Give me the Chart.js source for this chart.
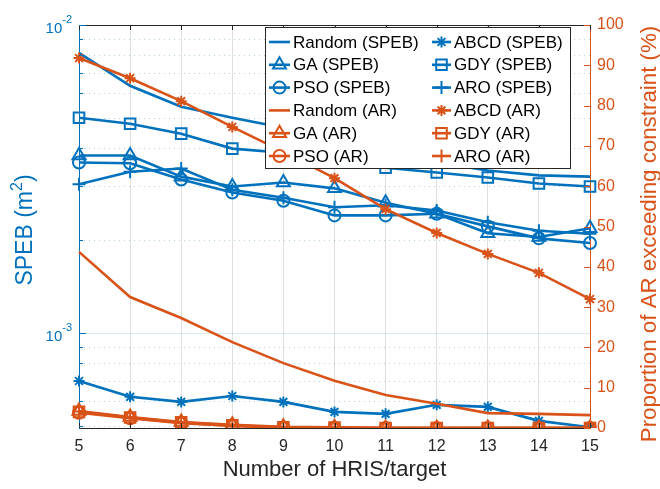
<!DOCTYPE html>
<html>
<head>
<meta charset="utf-8">
<script src="https://cdn.jsdelivr.net/npm/chart.js@4.4.1/dist/chart.umd.min.js"></script>
<style>
  html, body { margin: 0; padding: 0; background: #fff; }
  #wrap { width: 660px; height: 489px; }
</style>
</head>
<body>
<div id="wrap"><canvas id="chart" width="660" height="489"></canvas></div>
<script>
// values
const hrisCounts = ['5', '6', '7', '8', '9', '10', '11', '12', '13', '14', '15'];

// SPEB (m^2), left log axis
const randomSpeb = [8.12e-3, 6.35e-3, 5.43e-3, 5.0e-3, 4.64e-3, 4.21e-3, 3.85e-3, 3.58e-3, 3.37e-3, 3.25e-3, 3.22e-3];
const gaSpeb     = [3.77e-3, 3.77e-3, 3.22e-3, 2.99e-3, 3.08e-3, 2.95e-3, 2.65e-3, 2.44e-3, 2.11e-3, 2.05e-3, 2.19e-3];
const psoSpeb    = [3.58e-3, 3.56e-3, 3.15e-3, 2.86e-3, 2.69e-3, 2.41e-3, 2.41e-3, 2.44e-3, 2.22e-3, 2.03e-3, 1.96e-3];
const abcdSpeb   = [6.99e-4, 6.21e-4, 5.98e-4, 6.25e-4, 5.98e-4, 5.55e-4, 5.47e-4, 5.85e-4, 5.76e-4, 5.19e-4, 4.95e-4];
const gdySpeb    = [5.0e-3, 4.78e-3, 4.44e-3, 3.97e-3, 3.85e-3, 3.71e-3, 3.44e-3, 3.32e-3, 3.20e-3, 3.06e-3, 2.99e-3];
const aroSpeb    = [3.04e-3, 3.34e-3, 3.42e-3, 2.92e-3, 2.75e-3, 2.56e-3, 2.60e-3, 2.50e-3, 2.29e-3, 2.15e-3, 2.10e-3];

// proportion of AR exceeding constraint (%), right axis
const randomAr = [43.7, 32.5, 27.3, 21.3, 16.1, 11.7, 8.2, 6.0, 3.7, 3.5, 3.2];
const gaAr     = [4.2, 2.7, 1.5, 0.8, 0.3, 0.2, 0, 0, 0, 0, 0];
const psoAr    = [3.8, 2.4, 1.2, 0.6, 0.1, 0, 0, 0, 0, 0, 0];
const abcdAr   = [91.8, 86.8, 81.1, 74.7, 68.5, 62.0, 54.3, 48.4, 43.2, 38.5, 32.0];
const gdyAr    = [4.0, 2.6, 1.4, 0.7, 0.2, 0.1, 0, 0, 0, 0, 0];
const aroAr    = [4.1, 2.5, 1.3, 0.5, 0.1, 0, 0, 0, 0, 0, 0];

// axis ticks
const spebMin = 4.92e-4;
const spebMax = 1e-2;
const spebGrid = [5e-4, 6e-4, 7e-4, 8e-4, 9e-4, 1e-3, 2e-3, 3e-3, 4e-3, 5e-3, 6e-3, 7e-3, 8e-3, 9e-3, 1e-2];
const spebLabels = [[1e-3, '10', '-3'], [1e-2, '10', '-2']];

const BLUE = '#0072BD';
const ORANGE = '#D95319';
const INK = '#262626';
const FONT = '"Liberation Sans", Arial, Helvetica, sans-serif';
const CLEAR = 'rgba(0,0,0,0)';

function series(label, data, color, axis, style, radius) {
    return {
        label,
        data,
        yAxisID: axis,
        borderColor: color,
        backgroundColor: CLEAR,
        borderWidth: 2.6,
        pointStyle: style || 'circle',
        pointRadius: style ? radius : 0,
        pointHoverRadius: style ? radius : 0,
        pointBorderWidth: 2,
        pointBorderColor: color,
        pointBackgroundColor: CLEAR,
        tension: 0,
        fill: false,
    };
}

// legend order is column by column, like the figure
const datasets = [
    series('Random (SPEB)', randomSpeb, BLUE, 'y', null, 0),
    series('GA (SPEB)', gaSpeb, BLUE, 'y', 'triangle', 7.5),
    series('PSO (SPEB)', psoSpeb, BLUE, 'y', 'circle', 6),
    series('Random (AR)', randomAr, ORANGE, 'y1', null, 0),
    series('GA (AR)', gaAr, ORANGE, 'y1', 'triangle', 7.5),
    series('PSO (AR)', psoAr, ORANGE, 'y1', 'circle', 6),
    series('ABCD (SPEB)', abcdSpeb, BLUE, 'y', 'star', 5.5),
    series('GDY (SPEB)', gdySpeb, BLUE, 'y', 'rect', 7.5),
    series('ARO (SPEB)', aroSpeb, BLUE, 'y', 'cross', 6.5),
    series('ABCD (AR)', abcdAr, ORANGE, 'y1', 'star', 5.5),
    series('GDY (AR)', gdyAr, ORANGE, 'y1', 'rect', 7.5),
    series('ARO (AR)', aroAr, ORANGE, 'y1', 'cross', 6.5),
];
// orange curves over blue ones
const drawOrder = [12, 11, 10, 6, 5, 4, 9, 8, 7, 3, 2, 1];
datasets.forEach((d, i) => { d.order = drawOrder[i]; });

function rotatedText(ctx, cx, cy, parts) {
    // parts: [text, size, raise]
    ctx.save();
    ctx.translate(cx, cy);
    ctx.rotate(-Math.PI / 2);
    ctx.textBaseline = 'alphabetic';
    ctx.textAlign = 'left';
    let total = 0;
    const widths = parts.map(([t, s]) => {
        ctx.font = s + 'px ' + FONT;
        const w = ctx.measureText(t).width;
        total += w;
        return w;
    });
    let px = -total / 2;
    parts.forEach(([t, s, raise], i) => {
        ctx.font = s + 'px ' + FONT;
        ctx.fillText(t, px, 8 - raise);
        px += widths[i];
    });
    ctx.restore();
}

const decor = {
    id: 'decor',
    beforeDatasetsDraw(chart) {
        const { ctx, chartArea: a, scales: { y } } = chart;
        ctx.save();
        for (const v of spebGrid) {
            const py = Math.round(y.getPixelForValue(v)) + 0.5;
            const major = Math.abs(Math.log10(v) - Math.round(Math.log10(v))) < 1e-6;
            ctx.beginPath();
            ctx.lineWidth = 1;
            if (major) {
                ctx.strokeStyle = 'rgba(0,114,189,0.15)';
                ctx.setLineDash([]);
            } else {
                ctx.strokeStyle = 'rgba(0,114,189,0.3)';
                ctx.setLineDash([1, 4]);
            }
            ctx.moveTo(a.left, py);
            ctx.lineTo(a.right, py);
            ctx.stroke();
        }
        ctx.restore();
    },
    afterDraw(chart) {
        const { ctx, chartArea: a, scales: { x, y, y1 } } = chart;
        ctx.save();
        ctx.setLineDash([]);

        // top box edge and x ticks (inward)
        ctx.strokeStyle = INK;
        ctx.lineWidth = 1;
        ctx.beginPath();
        ctx.moveTo(a.left, a.top + 0.5);
        ctx.lineTo(a.right, a.top + 0.5);
        hrisCounts.forEach((c, i) => {
            const px = Math.round(x.getPixelForValue(i)) + 0.5;
            ctx.moveTo(px, a.top);
            ctx.lineTo(px, a.top + 5);
            ctx.moveTo(px, a.bottom);
            ctx.lineTo(px, a.bottom - 5);
        });
        ctx.stroke();

        // left axis ticks
        ctx.strokeStyle = BLUE;
        ctx.beginPath();
        for (const v of spebGrid) {
            const py = Math.round(y.getPixelForValue(v)) + 0.5;
            const major = Math.abs(Math.log10(v) - Math.round(Math.log10(v))) < 1e-6;
            ctx.moveTo(a.left, py);
            ctx.lineTo(a.left + (major ? 7 : 4), py);
        }
        ctx.stroke();

        // right axis ticks
        ctx.strokeStyle = ORANGE;
        ctx.beginPath();
        for (let v = 0; v <= 100; v += 10) {
            const py = Math.round(y1.getPixelForValue(v)) + 0.5;
            ctx.moveTo(a.right, py);
            ctx.lineTo(a.right - 6, py);
        }
        ctx.stroke();

        // left tick labels 10^-n
        ctx.fillStyle = BLUE;
        ctx.textBaseline = 'middle';
        ctx.textAlign = 'left';
        for (const [v, base, exp] of spebLabels) {
            const py = y.getPixelForValue(v);
            ctx.font = '15px ' + FONT;
            const bw = ctx.measureText(base).width;
            ctx.font = '11px ' + FONT;
            const ew = ctx.measureText(exp).width;
            const x0 = a.left - 7 - ew - bw;
            ctx.font = '15px ' + FONT;
            ctx.fillText(base, x0, py + 4);
            ctx.font = '11px ' + FONT;
            ctx.fillText(exp, x0 + bw, py - 5);
        }

        // axis titles on the sides, reading upwards
        ctx.fillStyle = BLUE;
        rotatedText(ctx, 24, 230, [['SPEB (m', 23, 0], ['2', 16, 10], [')', 23, 0]]);
        ctx.fillStyle = ORANGE;
        rotatedText(ctx, 648, 234, [['Proportion of AR exceeding constraint (%)', 22.3, 0]]);

        // legend box, two columns
        const bx = 265.5, by = 27.5, bw = 305, bh = 141;
        ctx.fillStyle = '#ffffff';
        ctx.fillRect(bx, by, bw, bh);
        ctx.strokeStyle = INK;
        ctx.lineWidth = 1;
        ctx.strokeRect(bx, by, bw, bh);
        const cols = [{ l0: 269, l1: 290, tx: 293 }, { l0: 432, l1: 451, tx: 454 }];
        chart.data.datasets.forEach((d, i) => {
            const col = cols[Math.floor(i / 6)];
            const ry = 42 + 22.8 * (i % 6);
            ctx.strokeStyle = d.borderColor;
            ctx.lineWidth = 2.6;
            ctx.beginPath();
            ctx.moveTo(col.l0, ry);
            ctx.lineTo(col.l1, ry);
            ctx.stroke();
            if (d.pointRadius > 0) {
                ctx.lineWidth = 2;
                ctx.fillStyle = CLEAR;
                Chart.helpers.drawPoint(ctx, {
                    pointStyle: d.pointStyle,
                    radius: d.pointRadius,
                    borderWidth: 2,
                    rotation: 0,
                }, (col.l0 + col.l1) / 2, ry);
            }
            ctx.fillStyle = '#000';
            ctx.font = '17px ' + FONT;
            ctx.textAlign = 'left';
            ctx.textBaseline = 'middle';
            ctx.fillText(d.label, col.tx, ry + 1);
        });
        ctx.restore();
    },
};

new Chart(document.getElementById('chart'), {
    type: 'line',
    data: { labels: hrisCounts, datasets },
    options: {
        responsive: false,
        animation: false,
        devicePixelRatio: 1,
        layout: { padding: { top: 25, left: 0, right: 0, bottom: 0 } },
        plugins: { legend: { display: false }, tooltip: { enabled: false } },
        scales: {
            x: {
                type: 'category',
                offset: false,
                grid: { color: 'rgba(38,38,38,0.15)', drawTicks: false },
                border: { color: INK, width: 1 },
                ticks: { color: INK, font: { family: FONT, size: 16 }, padding: 9, maxRotation: 0, autoSkip: false },
                title: {
                    display: true,
                    text: 'Number of HRIS/target',
                    color: INK,
                    font: { family: FONT, size: 22 },
                    padding: { top: 0, bottom: 6 },
                },
                afterFit: s => { s.height = 61; },
            },
            y: {
                type: 'logarithmic',
                position: 'left',
                min: spebMin,
                max: spebMax,
                grid: { display: false },
                border: { color: BLUE, width: 1 },
                ticks: { display: false },
                afterFit: s => { s.width = 79; },
            },
            y1: {
                type: 'linear',
                position: 'right',
                min: 0,
                max: 100,
                grid: { display: false, drawTicks: false },
                border: { color: ORANGE, width: 1 },
                ticks: { stepSize: 10, color: ORANGE, font: { family: FONT, size: 16 }, padding: 7 },
                afterFit: s => { s.width = 70; },
            },
        },
    },
    plugins: [decor],
});
</script>
</body>
</html>
